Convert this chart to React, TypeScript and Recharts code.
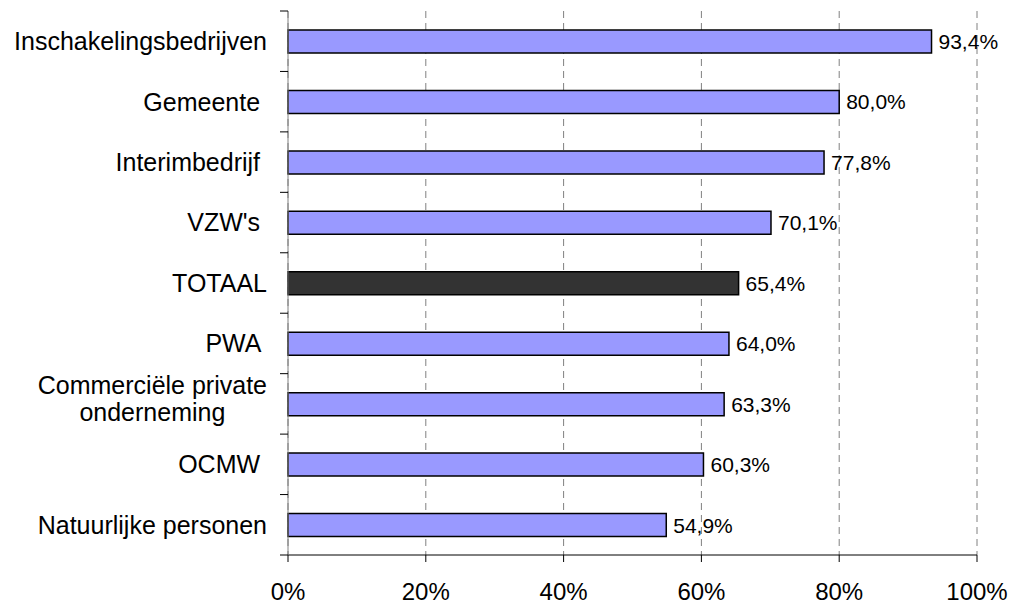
import React from 'react';
import { BarChart, Bar, XAxis, YAxis, CartesianGrid, Cell, LabelList } from 'recharts';

const categories = [
  'Inschakelingsbedrijven',
  'Gemeente ',
  'Interimbedrijf ',
  "VZW's ",
  'TOTAAL',
  'PWA ',
  'Commerciële private\nonderneming',
  'OCMW ',
  'Natuurlijke personen',
];
const values = [93.4, 80.0, 77.8, 70.1, 65.4, 64.0, 63.3, 60.3, 54.9];
const xTicks = [0, 20, 40, 60, 80, 100];
const highlight = 'TOTAAL';

const data = categories.map((name, i) => ({ name, value: values[i] }));

const W = 1013;
const H = 605;
const X_H = 50;
const M = { top: 11, right: 36, bottom: 0, left: 0 };
const Y_W = 288;
const BAND = (H - M.top - X_H) / categories.length;
const FONT = '"Liberation Sans", Arial, sans-serif';
const CAT_SIZE = 25;

let ctx: CanvasRenderingContext2D | null = null;
const measure = (txt: string) => {
  if (!ctx) ctx = document.createElement('canvas').getContext('2d');
  if (!ctx) return txt.length * 12;
  ctx.font = `${CAT_SIZE}px "Liberation Sans"`;
  return ctx.measureText(txt).width;
};

const CategoryTick = (props: any) => {
  const { x, y, payload, index } = props;
  const lines: string[] = String(payload.value).split('\n');
  const right = x - 13;
  const tickX = x + 8;
  const blockW = Math.max(...lines.map(measure));
  const last = index === categories.length - 1;
  return (
    <g>
      <line x1={tickX - 8} x2={tickX} y1={y - BAND / 2} y2={y - BAND / 2} stroke="#000" />
      {last && <line x1={tickX - 8} x2={tickX} y1={y + BAND / 2} y2={y + BAND / 2} stroke="#000" />}
      {lines.length === 1 ? (
        <text x={right} y={y} dy="0.355em" textAnchor="end" fontSize={CAT_SIZE} fontFamily={FONT}
          fill="#000" style={{ whiteSpace: 'pre' }}>
          {lines[0]}
        </text>
      ) : (
        lines.map((ln, i) => (
          <text key={i} x={right - blockW / 2} y={y - 19 + i * 27} dy="0.355em" textAnchor="middle"
            fontSize={CAT_SIZE} fontFamily={FONT} fill="#000">
            {ln}
          </text>
        ))
      )}
    </g>
  );
};

const fmt = (v: any) => `${Number(v).toFixed(1).replace('.', ',')}%`;

export default function App() {
  return (
    <div style={{ position: 'absolute', left: 0, top: 0, background: '#fff' }}>
      <BarChart width={W} height={H} data={data} layout="vertical" margin={M}>
        <CartesianGrid horizontal={false} stroke="#808080" strokeDasharray="7 5" />
        <XAxis
          type="number"
          domain={[0, 100]}
          ticks={xTicks}
          tickFormatter={(v) => `${v}%`}
          height={X_H}
          axisLine={{ stroke: '#000' }}
          tickLine={{ stroke: '#000' }}
          tickSize={7}
          tickMargin={21}
          interval={0}
          tick={{ fill: '#000', fontSize: 24, fontFamily: FONT }}
        />
        <YAxis
          type="category"
          dataKey="name"
          width={Y_W}
          axisLine={{ stroke: '#808080' }}
          tickLine={false}
          interval={0}
          tick={<CategoryTick />}
        />
        <Bar dataKey="value" barSize={23} stroke="#000" strokeWidth={1.5} isAnimationActive={false}>
          {data.map((d, i) => (
            <Cell key={i} fill={d.name === highlight ? '#333333' : '#9999FF'} />
          ))}
          <LabelList dataKey="value" position="right" offset={7} formatter={fmt}
            style={{ fill: '#000', fontSize: 21, fontFamily: FONT }} />
        </Bar>
      </BarChart>
    </div>
  );
}
